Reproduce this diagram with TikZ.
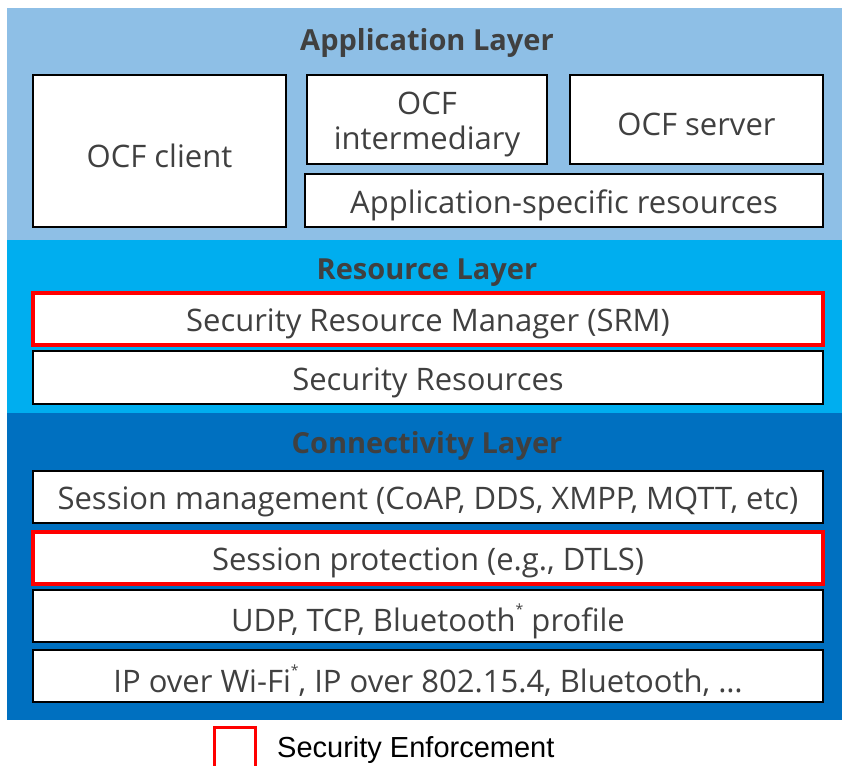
\documentclass[tikz,border=0pt]{standalone}
\usepackage{fontspec}
\setmainfont{Open Sans}
\newfontfamily\legendfont{Liberation Sans}
\definecolor{applayer}{HTML}{8EBFE6}
\definecolor{reslayer}{HTML}{00AEEF}
\definecolor{conlayer}{HTML}{0070C0}
\definecolor{txtgray}{HTML}{404040}
\definecolor{secred}{HTML}{FF0000}
\tikzset{
  layertitle/.style={font=\fontsize{29}{32}\selectfont\bfseries, text=txtgray, inner sep=0pt},
  block/.style={draw=black, line width=1.6pt, fill=white, inner sep=0pt},
  secblock/.style={block, draw=secred, line width=3.2pt},
  blocktext/.style={inner sep=0pt, font=\fontsize{31}{35}\selectfont, text=txtgray, align=center},
}
% small raised asterisk used as a trademark mark
\newcommand{\tmark}{\raisebox{0.55em}{\fontsize{14}{14}\selectfont *}}
% box from its left/top/right/bottom edge, in pixels from the top left corner,
% with its text set slightly below the middle
\newcommand{\pbox}[7]{%
  \node[#1, minimum width={(#5-#3)*1pt}, minimum height={(#6-#4)*1pt}]
    (#2) at ({(#3+#5)/2*1pt},{-(#4+#6)/2*1pt}) {};
  \node[blocktext] (#2-text) at ([yshift=-5pt]#2.center) {#7};}
\begin{document}
\begin{tikzpicture}[x=1pt,y=1pt]
\useasboundingbox (0,0) rectangle (842,-765);
% layer backgrounds
\fill[applayer] (7,-8) rectangle (842,-240);
\fill[reslayer] (7,-240) rectangle (842,-413);
\fill[conlayer] (7,-413) rectangle (842,-720);
% layer titles
\node[layertitle] (apptitle) at (427,-43) {Application Layer};
\node[layertitle] (restitle) at (427,-273) {Resource Layer};
\node[layertitle] (contitle) at (427,-446) {Connectivity Layer};
% application layer
\pbox{block}{client}{33}{75}{286}{227}{OCF client}
\pbox{block}{inter}{307}{75}{547}{164}{OCF\\intermediary}
\pbox{block}{server}{570}{75}{823}{164}{OCF server}
\pbox{block}{appres}{305}{174}{823}{227}{Application-specific resources}
% resource layer
\pbox{secblock}{srm}{33}{293}{823}{345}{Security Resource Manager (SRM)}
\pbox{block}{secres}{33}{351}{823}{404}{Security Resources}
% connectivity layer
\pbox{block}{sessmgmt}{33}{471}{823}{523}{Session management (CoAP, DDS, XMPP, MQTT, etc)}
\pbox{secblock}{sessprot}{33}{532}{823}{584}{Session protection (e.g., DTLS)}
\pbox{block}{transport}{33}{590}{823}{642}{UDP, TCP, Bluetooth\tmark{} profile}
\pbox{block}{link}{33}{650}{823}{702}{IP over Wi-Fi\tmark, IP over 802.15.4, Bluetooth, \dots}
% legend
\draw[secred, line width=3.2pt] (214.5,-768) -- (214.5,-727.5) -- (255.5,-727.5) -- (255.5,-768);
\node[anchor=west, inner sep=0pt, font=\legendfont\fontsize{29}{31}\selectfont] (legend) at (277,-750) {Security Enforcement};
\end{tikzpicture}
\end{document}
